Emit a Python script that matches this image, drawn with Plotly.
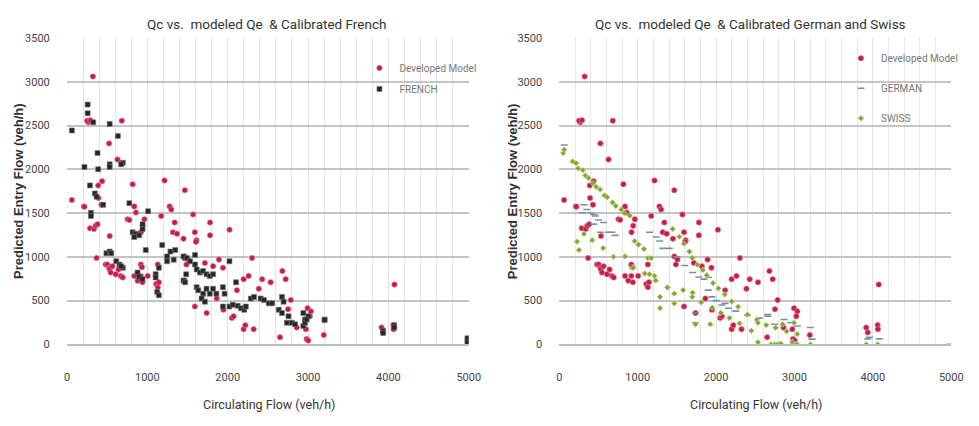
import plotly.graph_objects as go

# ---------------- data ----------------
dev_x = [61, 209, 217, 265, 251, 290, 323, 286, 335, 356, 380, 392, 388, 437, 429, 368, 481, 502, 524, 531,
         544, 565, 607, 641, 670, 694, 524, 531, 628, 682, 754, 776, 817, 838, 858, 879, 838, 919, 939, 919,
         933, 921, 942, 963, 1005, 1109, 1130, 1143, 1130, 1172, 1214, 1277, 1298, 1340, 1319, 1369, 1450, 1466, 1466, 1487,
         1507, 1570, 1591, 1612, 1591, 1605, 1716, 1738, 1780, 1780, 1818, 1863, 1891, 1941, 1947, 2023, 2052, 2073, 2115, 2198,
         2219, 2198, 2261, 2303, 2324, 2387, 2429, 2534, 2651, 2680, 2722, 2751, 2785, 2859, 2973, 2982, 3002, 2994, 3036, 3023,
         3195, 3915, 3934, 4061, 4064, 4075]
dev_y = [1650, 1576, 1573, 2536, 2555, 2560, 3060, 1326, 1318, 1355, 1373, 1672, 1816, 1864, 1595, 986, 912, 912, 875, 856,
         820, 893, 801, 856, 782, 764, 2296, 1237, 2112, 2555, 1429, 1421, 1828, 1576, 1506, 727, 782, 782, 709, 912,
         882, 1281, 1355, 1429, 782, 690, 653, 709, 912, 1466, 1872, 1576, 1540, 1392, 1281, 1263, 1207, 1761, 1005, 912,
         968, 1484, 1281, 1189, 432, 1171, 930, 358, 1392, 1245, 893, 524, 968, 875, 395, 1310, 302, 321, 617, 173,
         218, 745, 782, 986, 173, 635, 745, 709, 81, 837, 745, 402, 506, 192, 173, 62, 44, 413, 377, 321,
         107, 192, 136, 221, 173, 683]

fr_x = [257, 257, 327, 61, 531, 633, 380, 217, 388, 531, 531, 695, 674, 286, 347, 368, 450, 776, 1009, 298,
        298, 940, 940, 817, 858, 898, 837, 980, 490, 531, 551, 613, 653, 695, 674, 878, 898, 940, 1103, 1103,
        1143, 1123, 1143, 1185, 1246, 1287, 1348, 1328, 1246, 1470, 1483, 1458, 1450, 1491, 1532, 1593, 1593, 1614, 1654, 1695,
        1736, 1777, 1818, 1450, 1470, 1614, 1634, 1695, 1736, 1777, 1675, 1716, 1818, 1859, 1940, 1961, 2022, 2104, 1940, 2022,
        2062, 2124, 2165, 2206, 2226, 2288, 2328, 2410, 2451, 2512, 2553, 2675, 2696, 2635, 2675, 2757, 2736, 2798, 2838, 2941,
        2961, 2941, 3002, 3206, 3206, 2961, 2982, 3934, 3934, 4072, 4072, 4983, 4983]
fr_y = [2739, 2640, 2536, 2444, 2518, 2381, 2186, 2027, 2001, 2057, 2027, 2075, 2057, 1816, 1724, 1687, 1595, 1613, 1521, 1503,
        1466, 1373, 1318, 1281, 1263, 1245, 1226, 1078, 1041, 1060, 1041, 949, 912, 875, 893, 820, 771, 745, 801, 764,
        875, 598, 561, 1134, 1005, 1060, 1078, 967, 949, 986, 801, 728, 1005, 986, 949, 1022, 912, 856, 820, 838,
        801, 782, 801, 728, 709, 653, 617, 579, 635, 579, 524, 487, 635, 579, 653, 579, 949, 709, 432, 432,
        451, 440, 413, 395, 432, 524, 542, 524, 506, 469, 469, 542, 487, 395, 358, 321, 247, 247, 229, 358,
        284, 210, 321, 284, 277, 247, 284, 155, 130, 218, 192, 70, 25]

ger_x = [63, 293, 314, 350, 400, 440, 461, 500, 524, 565, 628, 670, 712, 440, 1151, 1235, 1280, 1319, 1403, 1500,
         1600, 1700, 1780, 1843, 1906, 1900, 1947, 2000, 2073, 2115, 2157, 2250, 2400, 2550, 2659, 2659, 2743, 2868, 2952, 3036,
         3203, 3224, 3936, 3957, 4082, 4983, 1737, 1737]
ger_y = [2278, 1503, 1595, 1540, 1500, 1484, 1466, 1420, 1281, 1392, 1281, 1281, 1245, 1373, 1281, 1226, 1180, 1097, 1097, 1000,
         900, 820, 770, 745, 764, 620, 542, 500, 450, 468, 413, 380, 330, 300, 339, 321, 229, 284, 247, 210,
         192, 60, 62, 81, 62, 0, 358, 247]

sw_x = [50, 63, 170, 215, 240, 300, 330, 372, 430, 470, 520, 575, 610, 680, 720, 790, 830, 900, 960, 1010,
        1080, 1130, 1172, 1151, 1214, 1285, 1285, 1445, 1530, 1590, 1660, 1696, 1760, 1830, 1880, 1960, 2030, 2110, 2200, 2280,
        2400, 2520, 2640, 2760, 2900, 2994, 3036,
        226, 251, 314, 420, 560, 690, 838, 942, 1090, 1230, 1380, 1466, 1466, 1580, 1700, 1696, 1737,
        1810, 1926, 1950, 2060, 2170, 2300, 2450, 2534, 2534, 2701, 2750, 2785, 2826, 2848, 2973, 3015, 3036, 3203, 3915,
        4061]
sw_y = [2185, 2225, 2090, 2070, 2010, 1990, 1930, 1900, 1840, 1800, 1770, 1700, 1680, 1620, 1580, 1540, 1500, 1470, 1180, 1140,
        1090, 986, 986, 801, 782, 542, 413, 1318, 1230, 1150, 1060, 986, 910, 850, 790, 700, 640, 570, 490, 430,
        340, 280, 220, 190, 150, 247, 118,
        1174, 1078, 1263, 1190, 1100, 1000, 1005, 875, 810, 730, 650, 579, 468, 620, 590, 542, 229,
        480, 229, 420, 360, 300, 240, 155, 247, 25, 0, 0, 0, 8, 229, 25, 0, 0, 0, 0,
        0]

x_ticks = [0, 1000, 2000, 3000, 4000, 5000]
y_ticks = [0, 500, 1000, 1500, 2000, 2500, 3000, 3500]

titles = ["Qc vs.  modeled Qe  & Calibrated French", "Qc vs.  modeled Qe  & Calibrated German and Swiss"]
x_title = "Circulating Flow (veh/h)"
y_title = "Predicted Entry Flow (veh/h)"

# ---------------- styling ----------------
W, H = 979, 426
NARROW = "Liberation Sans Narrow, Arial Narrow, Roboto, sans-serif"
RED = "#c41d47"
left_px = (65, 473)
right_px = (565, 963)
top_px, bot_px = 33, 349

def px2x(p):
    return p / W

def px2y(p):
    return 1 - p / H

fig = go.Figure()

red_marker = dict(symbol="circle", size=5.5, color=RED, line=dict(color="#e58aa0", width=0.6))
# left chart
fig.add_trace(go.Scatter(x=dev_x, y=dev_y, mode="markers", name="Developed Model", marker=red_marker,
                         xaxis="x", yaxis="y", legend="legend", legendgroup="a"))
fig.add_trace(go.Scatter(x=fr_x, y=fr_y, mode="markers", name="FRENCH",
                         marker=dict(symbol="square", size=5, color="#262626", line=dict(color="#777", width=0.6)),
                         xaxis="x", yaxis="y", legend="legend", legendgroup="b"))
# right chart
fig.add_trace(go.Scatter(x=dev_x, y=dev_y, mode="markers", name="Developed Model", marker=red_marker,
                         xaxis="x2", yaxis="y2", legend="legend2", legendgroup="c"))
fig.add_trace(go.Scatter(x=ger_x, y=ger_y, mode="markers", name="GERMAN",
                         marker=dict(symbol="line-ew", size=5, color="#7890a8", line=dict(color="#7890a8", width=1.6)),
                         xaxis="x2", yaxis="y2", legend="legend2", legendgroup="d"))
fig.add_trace(go.Scatter(x=sw_x, y=sw_y, mode="markers", name="SWISS",
                         marker=dict(symbol="diamond", size=4.5, color="#7fa63e", line=dict(color="#d8df86", width=0.7)),
                         xaxis="x2", yaxis="y2", legend="legend2", legendgroup="e"))

axis_common_x = dict(range=[0, 5000], tickvals=x_ticks, showgrid=True, gridcolor="#e2e2e2", gridwidth=1,
                     minor=dict(dtick=200, showgrid=True, gridcolor="#e6e6e6", gridwidth=1),
                     zeroline=False, showline=True, linecolor="#bdbdbd", linewidth=1.5,
                     ticks="outside", ticklen=22, tickcolor="rgba(0,0,0,0)",
                     tickfont=dict(family=NARROW, size=11, color="#444"))
axis_common_y = dict(range=[0, 3500], tickvals=y_ticks, showgrid=True, gridcolor="#c4c4c4", gridwidth=1.5,
                     zeroline=False, showline=False,
                     ticks="outside", ticklen=14, tickcolor="rgba(0,0,0,0)",
                     tickfont=dict(family=NARROW, size=11, color="#444"))

ydom = [px2y(bot_px), px2y(top_px)]
fig.update_layout(
    width=W, height=H, margin=dict(l=0, r=0, t=0, b=0),
    paper_bgcolor="white", plot_bgcolor="white",
    xaxis=dict(domain=[px2x(left_px[0]), px2x(left_px[1])], anchor="y", **axis_common_x),
    yaxis=dict(domain=ydom, anchor="x", **axis_common_y),
    xaxis2=dict(domain=[px2x(right_px[0]), px2x(right_px[1])], anchor="y2", **axis_common_x),
    yaxis2=dict(domain=ydom, anchor="x2", **axis_common_y),
    legend=dict(x=px2x(362), y=px2y(49), xanchor="left", yanchor="top", bgcolor="rgba(0,0,0,0)",
                font=dict(family=NARROW, size=10, color="#777"), tracegroupgap=2, itemwidth=30),
    legend2=dict(x=px2x(851), y=px2y(39), xanchor="left", yanchor="top", bgcolor="rgba(0,0,0,0)",
                 font=dict(family=NARROW, size=10, color="#777"), tracegroupgap=11, itemwidth=30),
    showlegend=True,
)

annots = []
for t, cx in zip(titles, [268, 759]):
    annots.append(dict(text=t, x=px2x(cx), y=px2y(19), xref="paper", yref="paper", showarrow=False,
                       xanchor="center", yanchor="middle", font=dict(family=NARROW, size=13.5, color="#333")))
for cx in [270, 765]:
    annots.append(dict(text=x_title, x=px2x(cx), y=px2y(411), xref="paper", yref="paper", showarrow=False,
                       xanchor="center", yanchor="middle", font=dict(family=NARROW, size=12.5, color="#333")))
for cx in [15, 517]:
    annots.append(dict(text="<b>" + y_title + "</b>", x=px2x(cx), y=px2y(191), xref="paper", yref="paper",
                       showarrow=False, textangle=-90, xanchor="center", yanchor="middle",
                       font=dict(family="Liberation Sans, Arial, sans-serif", size=13, color="#333")))
fig.update_layout(annotations=annots)

fig.write_html("out.html")
